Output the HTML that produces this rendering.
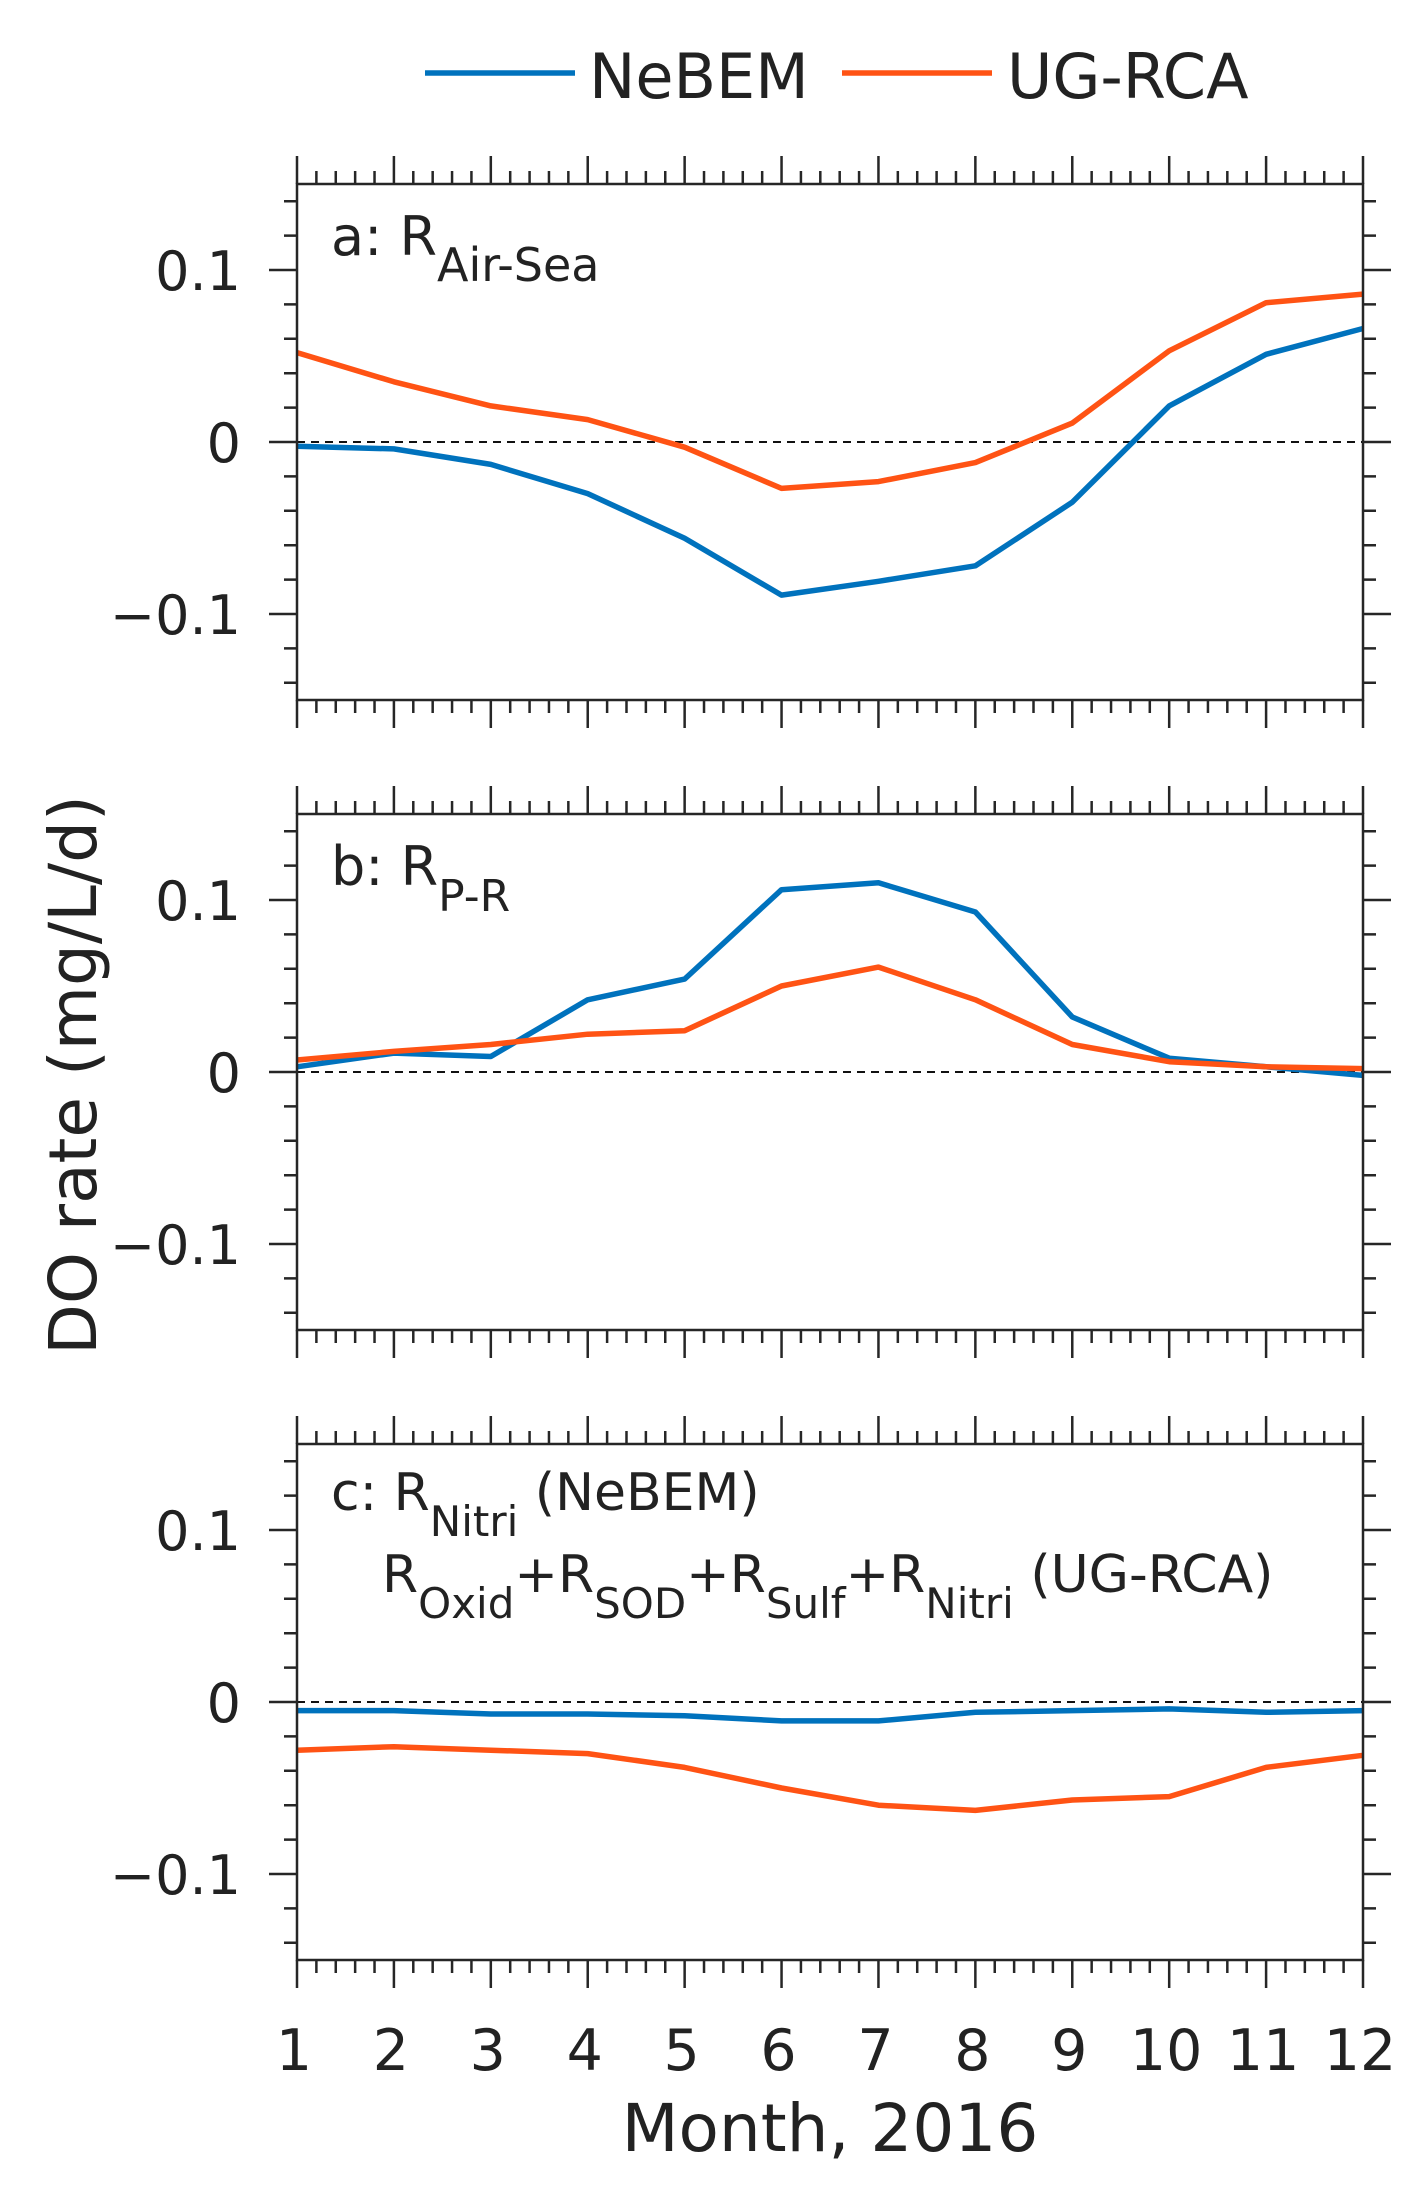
<!DOCTYPE html>
<html><head><meta charset="utf-8"><style>
html,body{margin:0;padding:0;background:#fff;}
svg{display:block;font-family:"DejaVu Sans","Liberation Sans",sans-serif;}
</style></head><body>
<svg id="chart" width="1426" height="2200" viewBox="0 0 1426 2200" xmlns="http://www.w3.org/2000/svg">
<g>
<line x1="425" y1="73" x2="575" y2="73" stroke="#0072BD" stroke-width="5.5"/>
<text x="589" y="98" font-size="62" fill="#222">NeBEM</text>
<line x1="842" y1="73" x2="992" y2="73" stroke="#FF5314" stroke-width="5.5"/>
<text x="1007" y="98" font-size="62" fill="#222">UG-RCA</text>
</g>
<text x="0" y="0" font-size="66" fill="#222" text-anchor="middle" transform="translate(96,1075) rotate(-90)">DO rate (mg/L/d)</text>
<text x="830" y="2151" font-size="66" fill="#222" text-anchor="middle">Month, 2016</text>
<g id="panels"></g>
</svg>
<script>
const months = [1,2,3,4,5,6,7,8,9,10,11,12];
const yTickValues = [-0.1, 0, 0.1];
const yTickLabels = ["\u22120.1", "0", "0.1"];
const airSeaNebem = [-0.0025,-0.004,-0.013,-0.030,-0.056,-0.089,-0.081,-0.072,-0.035,0.021,0.051,0.066];
const airSeaUgrca = [0.052,0.035,0.021,0.013,-0.003,-0.027,-0.023,-0.012,0.011,0.053,0.081,0.086];
const prNebem = [0.003,0.011,0.009,0.042,0.054,0.106,0.110,0.093,0.032,0.008,0.003,-0.002];
const prUgrca = [0.007,0.012,0.016,0.022,0.024,0.050,0.061,0.042,0.016,0.006,0.003,0.002];
const nitriNebem = [-0.005,-0.005,-0.007,-0.007,-0.008,-0.011,-0.011,-0.006,-0.005,-0.004,-0.006,-0.005];
const nitriUgrca = [-0.028,-0.026,-0.028,-0.030,-0.038,-0.050,-0.060,-0.063,-0.057,-0.055,-0.038,-0.031];

const NS = "http://www.w3.org/2000/svg";
const L = 297, R = 1363, H = 516, YMIN = -0.15, YMAX = 0.15;
const tops = [184, 814, 1444];
const panelNames = ["panel-a-air-sea", "panel-b-p-r", "panel-c-nitri"];
const seriesSets = [[airSeaNebem, airSeaUgrca],[prNebem, prUgrca],[nitriNebem, nitriUgrca]];
const root = document.getElementById("panels");
function xs(m){ return L + (m - 1) * (R - L) / 11; }
function mk(tag, attrs, parent){ const e = document.createElementNS(NS, tag); for (const k in attrs) e.setAttribute(k, attrs[k]); parent.appendChild(e); return e; }

tops.forEach((T, pi) => {
  const ys = v => T + (YMAX - v) / (YMAX - YMIN) * H;
  const B = T + H;
  const g = mk("g", {}, root);
  
  
  const z = mk("line", {x1:L, x2:R, y1:ys(0), y2:ys(0), stroke:"#111", "stroke-width":2, "stroke-dasharray":"8 6"}, g);
  
  
  const cols = ["#0072BD", "#FF5314"];
  const snames = ["line-nebem", "line-ugrca"];
  seriesSets[pi].forEach((arr, si) => {
    const pts = arr.map((v, i) => xs(months[i]).toFixed(1) + "," + ys(v).toFixed(1)).join(" ");
    const p = mk("polyline", {points:pts, fill:"none", stroke:cols[si], "stroke-width":5.5, "stroke-linejoin":"round"}, g);
    
    
  });
  const f = mk("rect", {x:L, y:T, width:R-L, height:H, fill:"none", stroke:"#262626", "stroke-width":2.5}, g);
  
  
  let d = "";
  for (let k = 0; k <= 55; k++) {
    const m = 1 + k / 5, x = xs(m), major = k % 5 === 0, len = major ? 28 : 13;
    d += `M${x},${T}V${T-len}M${x},${B}V${B+len}`;
  }
  for (let k = -7; k <= 7; k++) {
    const v = k * 0.02, y = ys(v);
    d += `M${L},${y}H${L-13}M${R},${y}H${R+13}`;
  }
  yTickValues.forEach(v => { const y = ys(v); d += `M${L},${y}H${L-28}M${R},${y}H${R+28}`; });
  const tk = mk("path", {d:d, stroke:"#262626", "stroke-width":2.5, fill:"none"}, g);
  
  
  yTickValues.forEach((v, i) => {
    const t = mk("text", {x:241, y:ys(v)+20, "font-size":54, fill:"#222", "text-anchor":"end"}, g);
    t.textContent = yTickLabels[i];
    
    
  });
  if (pi === 2) {
    months.forEach(m => {
      const t = mk("text", {x:xs(m)-3, y:2070, "font-size":57, fill:"#222", "text-anchor":"middle"}, root);
      t.textContent = String(m);
      
      
    });
  }
});

function label(x, y, parts, name, fs, sfs){
  const t = mk("text", {x:x, y:y, "font-size":fs, fill:"#222"}, root);
  
  
  parts.forEach(pt => {
    const s = mk("tspan", {}, t);
    if (pt[1]) { s.setAttribute("font-size", sfs); s.setAttribute("dy", 26); }
    else if (pt[2]) { s.setAttribute("dy", -26); }
    s.textContent = pt[0];
  });
}
label(331, 255, [["a: R"],["Air-Sea",1]], "panel-a-title", 54, 46);
label(331, 885, [["b: R"],["P-R",1]], "panel-b-title", 54, 44);
label(331, 1510, [["c: R"],["Nitri",1],[" (NeBEM)",0,1]], "panel-c-title-line1", 52, 42);
label(382, 1592, [["R"],["Oxid",1],["+R",0,1],["SOD",1],["+R",0,1],["Sulf",1],["+R",0,1],["Nitri",1],[" (UG-RCA)",0,1]], "panel-c-title-line2", 52, 42);
</script>
</body></html>
